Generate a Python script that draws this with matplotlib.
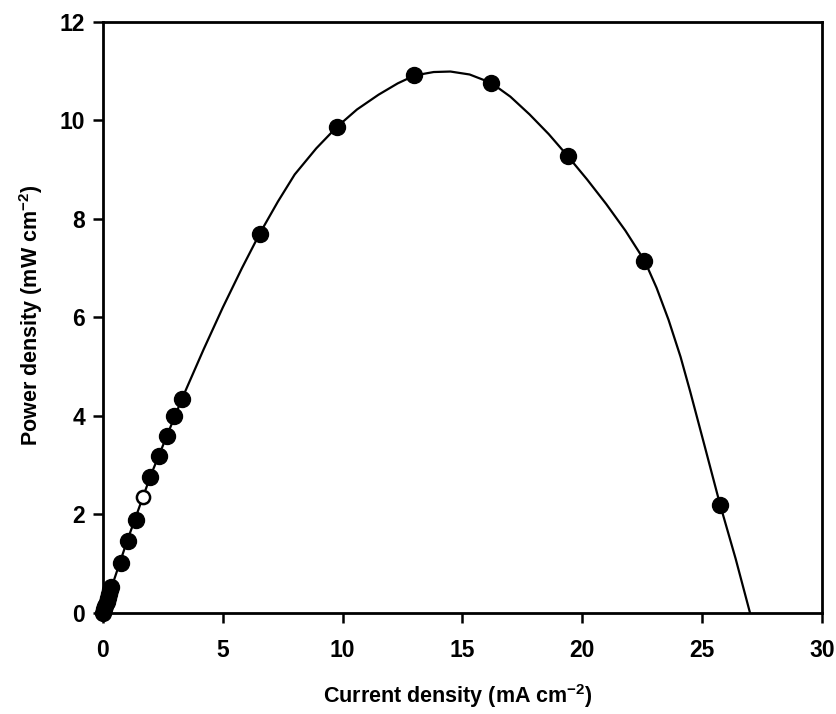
import numpy as np
import matplotlib
matplotlib.use("Agg")
import matplotlib.pyplot as plt

# ===============================
# DATA
# ===============================
# dense cluster of points near the origin
low_j = [0.0, 0.05, 0.1, 0.15, 0.2, 0.25, 0.3, 0.33]
low_p = [0.0, 0.08, 0.15, 0.23, 0.31, 0.39, 0.47, 0.53]

# filled points
cur_j = [0.74, 1.05, 1.37, 1.97, 2.33, 2.66, 2.97, 3.31,
         6.54, 9.75, 12.96, 16.19, 19.4, 22.58, 25.73]
pow_p = [1.01, 1.47, 1.89, 2.77, 3.19, 3.59, 3.99, 4.34,
         7.70, 9.86, 10.91, 10.76, 9.27, 7.15, 2.19]

# open point
open_j = [1.66]
open_p = [2.35]

# fitted curve
curve_j = [0.0, 1.0, 2.0, 3.3, 4.2, 5.0, 5.8, 6.54, 7.3, 8.0, 8.9, 9.75, 10.6,
           11.5, 12.3, 13.0, 13.8, 14.5, 15.3, 16.2, 17.0, 17.8, 18.6, 19.4,
           20.2, 21.0, 21.8, 22.6, 23.1, 23.6, 24.1, 24.5, 25.1, 25.75, 26.4, 27.0]
curve_p = [0.0, 1.45, 2.8, 4.35, 5.35, 6.2, 7.0, 7.7, 8.35, 8.9, 9.43, 9.86, 10.22,
           10.52, 10.75, 10.91, 10.98, 10.99, 10.93, 10.76, 10.48, 10.12, 9.72, 9.27,
           8.8, 8.3, 7.76, 7.15, 6.6, 5.95, 5.2, 4.5, 3.4, 2.2, 1.1, 0.0]

# ===============================
# STYLE
# ===============================
plt.rcParams["font.family"] = ["Liberation Sans", "DejaVu Sans"]
plt.rcParams["font.weight"] = "bold"
plt.rcParams["mathtext.fontset"] = "custom"
plt.rcParams["mathtext.rm"] = "Liberation Sans:bold"
plt.rcParams["mathtext.it"] = "Liberation Sans:bold"
plt.rcParams["mathtext.bf"] = "Liberation Sans:bold"

fig = plt.figure(figsize=(8.37, 7.14), dpi=100)
ax = fig.add_axes([0.123, 0.1415, 0.859, 0.828])

ax.plot(curve_j, curve_p, color="black", lw=1.6, zorder=2)
ax.plot(low_j, low_p, "o", color="black", ms=11.5, clip_on=False, zorder=3)
ax.plot(cur_j, pow_p, "o", color="black", ms=11.5, clip_on=False, zorder=3)
ax.plot(open_j, open_p, "o", mfc="white", mec="black", mew=1.8, ms=9.5,
        clip_on=False, zorder=3)

ax.set_xlim(0, 30)
ax.set_ylim(0, 12)
ax.set_xticks(range(0, 31, 5))
ax.set_yticks(range(0, 13, 2))

for s in ax.spines.values():
    s.set_linewidth(2)
ax.tick_params(direction="out", length=7, width=1.8, labelsize=16.5)
ax.tick_params(axis="x", pad=12)
ax.tick_params(axis="y", pad=6)

fig.text(0.547, 0.025, "Current density (mA cm$^{-2}$)", fontsize=15.5,
         fontweight="bold", ha="center", va="center")
fig.text(0.037, 0.559, "Power density (mW cm$^{-2}$)", fontsize=15.5,
         fontweight="bold", ha="center", va="center", rotation=90)

plt.savefig("out.png", dpi=100)
